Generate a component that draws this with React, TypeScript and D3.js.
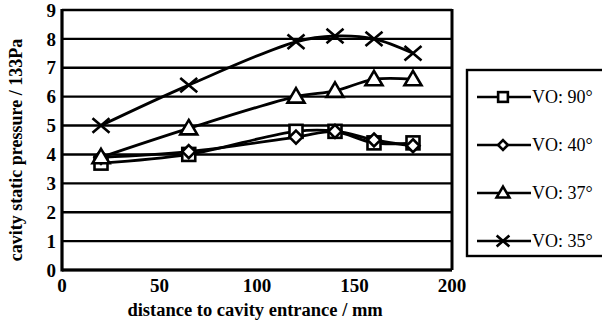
import React from "react";
import * as d3 from "d3";

const distances = [20, 65, 120, 140, 160, 180];
const vo90 = [3.7, 4.0, 4.8, 4.8, 4.4, 4.4];
const vo40 = [3.9, 4.1, 4.6, 4.8, 4.5, 4.3];
const vo37 = [3.9, 4.9, 6.0, 6.2, 6.6, 6.6];
const vo35 = [5.0, 6.4, 7.9, 8.1, 8.0, 7.5];
const seriesNames = ["VO: 90°", "VO: 40°", "VO: 37°", "VO: 35°"];
const seriesMarkers = ["square", "diamond", "triangle", "cross"];
const xTicks = [0, 50, 100, 150, 200];
const yTicks = [0, 1, 2, 3, 4, 5, 6, 7, 8, 9];

const series = [vo90, vo40, vo37, vo35];

const marker = (type: string, x: number, y: number, key: string, small = false) => {
  const k = small ? 0.75 : 1;
  if (type === "square") {
    const s = 6.5 * k;
    return <rect key={key} x={x - s} y={y - s} width={2 * s} height={2 * s} fill="white" stroke="black" strokeWidth={2.6} />;
  }
  if (type === "diamond") {
    const s = 6.5 * k;
    return <path key={key} d={`M${x},${y - s}L${x + s},${y}L${x},${y + s}L${x - s},${y}Z`} fill="white" stroke="black" strokeWidth={2.6} />;
  }
  if (type === "triangle") {
    const s = 8.5 * k;
    return <path key={key} d={`M${x},${y - s}L${x + s},${y + s * 0.7}L${x - s},${y + s * 0.7}Z`} fill="white" stroke="black" strokeWidth={2.6} />;
  }
  const s = 8.5 * k;
  return <path key={key} d={`M${x - s},${y - s * 0.85}L${x + s},${y + s * 0.85}M${x - s},${y + s * 0.85}L${x + s},${y - s * 0.85}`} stroke="black" strokeWidth={2.6} />;
};

export default function App() {
  const x = d3.scaleLinear().domain([0, 200]).range([62, 452]);
  const y = d3.scaleLinear().domain([0, 9]).range([270, 10]);
  const line = d3
    .line<number>()
    .x((_, i) => x(distances[i]))
    .y((d) => y(d))
    .curve(d3.curveCatmullRom.alpha(0.5));

  const legendY = [97, 145, 193, 241];

  return (
    <svg width={602} height={327} style={{ position: "absolute", left: 0, top: 0, background: "white" }}>
      {yTicks.map((t) => (
        <line key={"g" + t} x1={x(0)} x2={x(200)} y1={y(t)} y2={y(t)} stroke="black" strokeWidth={2.4} />
      ))}
      <line x1={x(200)} x2={x(200)} y1={y(9) - 1} y2={y(0)} stroke="black" strokeWidth={3} />
      <line x1={x(0)} x2={x(0)} y1={y(9) - 1} y2={y(0) + 1.5} stroke="black" strokeWidth={3.2} />
      <line x1={x(0)} x2={x(200)} y1={y(0)} y2={y(0)} stroke="black" strokeWidth={3.2} />
      {yTicks.map((t) => (
        <text key={"yt" + t} x={x(0) - 6} y={y(t)} dy="0.35em" textAnchor="end" fontFamily="Liberation Serif" fontWeight="bold" fontSize={19}>
          {t}
        </text>
      ))}
      {xTicks.map((t) => (
        <text key={"xt" + t} x={x(t)} y={y(0) + 22} textAnchor="middle" fontFamily="Liberation Serif" fontWeight="bold" fontSize={19}>
          {t}
        </text>
      ))}
      <text x={x(99)} y={316} textAnchor="middle" fontFamily="Liberation Serif" fontWeight="bold" fontSize={18.5}>
        distance to cavity entrance / mm
      </text>
      <text transform={`translate(22,150) rotate(-90)`} textAnchor="middle" fontFamily="Liberation Serif" fontWeight="bold" fontSize={18}>
        cavity static pressure / 133Pa
      </text>
      {series.map((s, si) => (
        <g key={"s" + si}>
          <path d={line(s) || ""} fill="none" stroke="black" strokeWidth={2.8} />
          {s.map((v, i) => marker(seriesMarkers[si], x(distances[i]), y(v), `m${si}-${i}`))}
        </g>
      ))}
      <rect x={467} y={70} width={140} height={186} fill="white" stroke="black" strokeWidth={2.4} />
      {seriesNames.map((n, i) => (
        <g key={"l" + i}>
          <line x1={477} x2={531} y1={legendY[i]} y2={legendY[i]} stroke="black" strokeWidth={2.4} />
          {marker(seriesMarkers[i], 503, legendY[i], "lm" + i, true)}
          <text x={532} y={legendY[i]} dy="0.35em" fontFamily="Liberation Serif" fontSize={18}>
            {n}
          </text>
        </g>
      ))}
    </svg>
  );
}
